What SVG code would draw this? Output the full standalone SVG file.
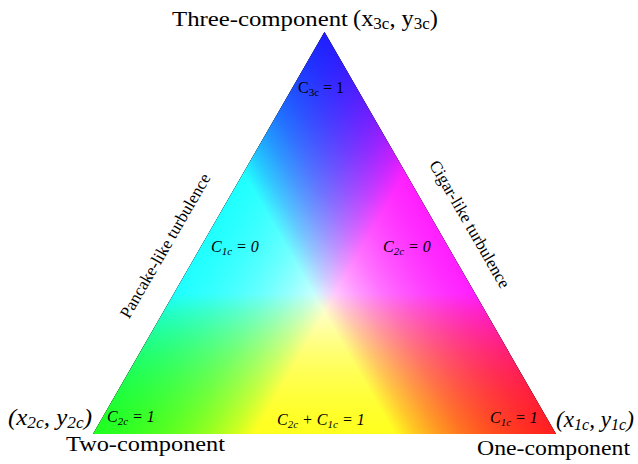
<svg xmlns="http://www.w3.org/2000/svg" width="638" height="464" viewBox="0 0 638 464">
<defs>
<linearGradient id="gR" gradientUnits="userSpaceOnUse" x1="208.75" y1="233" x2="556" y2="434">
<stop offset="0" stop-color="rgb(30,0,0)"/><stop offset="0.05" stop-color="rgb(43,0,0)"/><stop offset="0.1" stop-color="rgb(61,0,0)"/><stop offset="0.15" stop-color="rgb(84,0,0)"/><stop offset="0.2" stop-color="rgb(113,0,0)"/><stop offset="0.25" stop-color="rgb(151,0,0)"/><stop offset="0.3" stop-color="rgb(197,0,0)"/><stop offset="0.35" stop-color="rgb(255,0,0)"/><stop offset="1" stop-color="rgb(255,0,0)"/>
</linearGradient>
<linearGradient id="gG" gradientUnits="userSpaceOnUse" x1="440.25" y1="233" x2="93" y2="434">
<stop offset="0" stop-color="rgb(0,30,0)"/><stop offset="0.05" stop-color="rgb(0,43,0)"/><stop offset="0.1" stop-color="rgb(0,61,0)"/><stop offset="0.15" stop-color="rgb(0,84,0)"/><stop offset="0.2" stop-color="rgb(0,113,0)"/><stop offset="0.25" stop-color="rgb(0,151,0)"/><stop offset="0.3" stop-color="rgb(0,197,0)"/><stop offset="0.35" stop-color="rgb(0,255,0)"/><stop offset="1" stop-color="rgb(0,255,0)"/>
</linearGradient>
<linearGradient id="gB" gradientUnits="userSpaceOnUse" x1="324.5" y1="434" x2="324.5" y2="32">
<stop offset="0" stop-color="rgb(0,0,30)"/><stop offset="0.05" stop-color="rgb(0,0,43)"/><stop offset="0.1" stop-color="rgb(0,0,61)"/><stop offset="0.15" stop-color="rgb(0,0,84)"/><stop offset="0.2" stop-color="rgb(0,0,113)"/><stop offset="0.25" stop-color="rgb(0,0,151)"/><stop offset="0.3" stop-color="rgb(0,0,197)"/><stop offset="0.35" stop-color="rgb(0,0,255)"/><stop offset="1" stop-color="rgb(0,0,255)"/>
</linearGradient>
</defs>
<style>
text{font-family:"Liberation Serif","Times New Roman",serif;fill:#000}
.lab{font-size:22px}
.par{font-size:23px}
.m{font-size:16px}
.mi{font-size:16px;font-style:italic}
.rot{font-size:17px}
.scr{mix-blend-mode:screen}
</style>
<g id="triangle" style="isolation:isolate">
<polygon points="324.5,32 556,434 93,434" fill="url(#gR)"/>
<polygon class="scr" points="324.5,32 556,434 93,434" fill="url(#gG)"/>
<polygon class="scr" points="324.5,32 556,434 93,434" fill="url(#gB)"/>
</g>
<g id="vertex-top">
<text class="lab" x="172" y="26" textLength="176" lengthAdjust="spacingAndGlyphs">Three-component</text>
<text class="par" x="353" y="26" textLength="85" lengthAdjust="spacingAndGlyphs">(x<tspan font-size="16" dy="3">3c</tspan><tspan dy="-3">, y</tspan><tspan font-size="16" dy="3">3c</tspan><tspan dy="-3">)</tspan></text>
</g>
<g id="vertex-left">
<text class="par" x="8" y="425" font-style="italic" textLength="84" lengthAdjust="spacingAndGlyphs">(x<tspan font-size="16" dy="3">2c</tspan><tspan dy="-3">, y</tspan><tspan font-size="16" dy="3">2c</tspan><tspan dy="-3">)</tspan></text>
<text class="lab" x="66" y="451" textLength="159" lengthAdjust="spacingAndGlyphs">Two-component</text>
</g>
<g id="vertex-right">
<text class="par" x="556" y="427" font-style="italic" textLength="78" lengthAdjust="spacingAndGlyphs">(x<tspan font-size="16" dy="3">1c</tspan><tspan dy="-3">, y</tspan><tspan font-size="16" dy="3">1c</tspan><tspan dy="-3">)</tspan></text>
<text class="lab" x="477" y="455" textLength="153" lengthAdjust="spacingAndGlyphs">One-component</text>
</g>
<g id="labels">
<text class="m" x="298" y="93">C<tspan font-size="11" dy="3">3c</tspan><tspan dy="-3"> = 1</tspan></text>
<text class="mi" x="211" y="252">C<tspan font-size="11" dy="3">1c</tspan><tspan dy="-3"> = 0</tspan></text>
<text class="mi" x="383" y="252">C<tspan font-size="11" dy="3">2c</tspan><tspan dy="-3"> = 0</tspan></text>
<text class="mi" x="107" y="422">C<tspan font-size="11" dy="3">2c</tspan><tspan dy="-3"> = 1</tspan></text>
<text class="mi" x="277" y="425">C<tspan font-size="11" dy="3">2c</tspan><tspan dy="-3"> + C</tspan><tspan font-size="11" dy="3">1c</tspan><tspan dy="-3"> = 1</tspan></text>
<text class="mi" x="490" y="423">C<tspan font-size="11" dy="3">1c</tspan><tspan dy="-3"> = 1</tspan></text>
<text class="rot" text-anchor="middle" transform="translate(170,248.5) rotate(-60)">Pancake-like turbulence</text>
<text class="rot" text-anchor="middle" transform="translate(465,227) rotate(60)">Cigar-like turbulence</text>
</g>
</svg>
